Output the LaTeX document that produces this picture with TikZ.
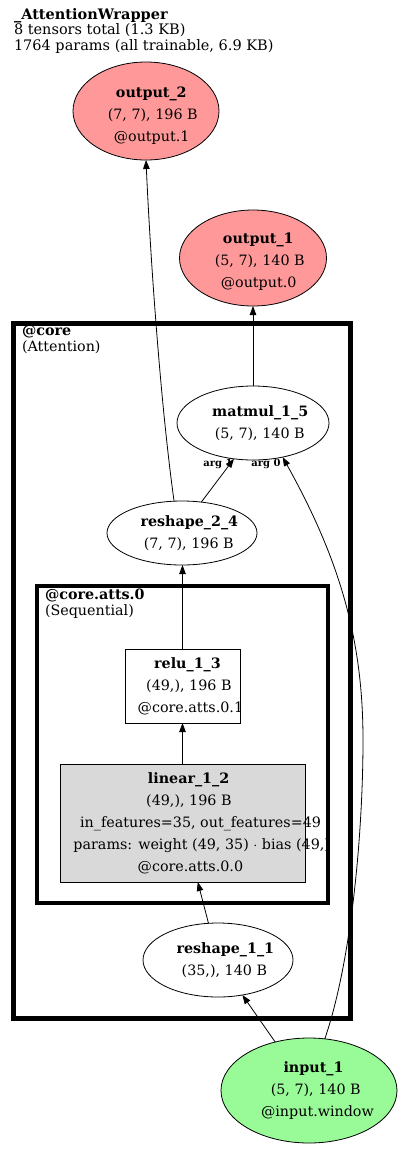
\documentclass[tikz,border=0pt]{standalone}
\usepackage{fontspec}
\setmainfont{DejaVu Serif}
\usetikzlibrary{shapes.geometric,arrows.meta}
\definecolor{outfill}{HTML}{FF9999}
\definecolor{infill}{HTML}{98FB98}
\definecolor{linfill}{HTML}{D9D9D9}
\newcommand{\gvline}[1]{\makebox[0.85\width][l]{#1}}
\begin{document}
\begin{tikzpicture}[x=1pt,y=-1pt,
  every node/.style={inner sep=0pt, outer sep=0pt, font=\fontsize{14.3}{22}\selectfont, align=center},
  ell/.style={ellipse, draw, line width=0.8pt},
  opbox/.style={rectangle, draw, line width=0.8pt},
  arr/.style={-{Triangle[length=9pt,width=6.5pt]}, line width=0.8pt},
  clusterbox/.style={draw, rectangle, fill=none},
  clabel/.style={anchor=north west, align=left, font=\fontsize{14.3}{16}\selectfont},
  arglabel/.style={font=\bfseries\fontsize{10}{11}\selectfont}
]
\useasboundingbox[fill=white] (0,0) rectangle (400,1149);

% title
\node[anchor=north west, align=left, font=\fontsize{14.5}{15.5}\selectfont] (title) at (14,8)
  {\textbf{\_AttentionWrapper}\\8 tensors total (1.3 KB)\\1764 params (all trainable, 6.9 KB)};

% clusters
\node[clusterbox, line width=5pt, minimum width=337pt, minimum height=695pt] (core) at (182,670.5) {};
\node[clabel] (corelabel) at (22,325) {\textbf{@core}\\(Attention)};
\node[clusterbox, line width=4pt, minimum width=291pt, minimum height=317pt] (atts) at (182.5,744.5) {};
\node[clabel] (attslabel) at (45,589) {\textbf{@core.atts.0}\\(Sequential)};

% nodes
\node[ell, fill=outfill, minimum width=146pt, minimum height=98pt] (out2) at (146,111)
  {\rule{0pt}{20pt}\gvline{\textbf{output\_2}}\\\gvline{(7, 7), 196 B}\\\gvline{@output.1}};
\node[ell, fill=outfill, minimum width=147pt, minimum height=96pt] (out1) at (253,258)
  {\rule{0pt}{18pt}\gvline{\textbf{output\_1}}\\\gvline{(5, 7), 140 B}\\\gvline{@output.0}};
\node[ell, fill=white, minimum width=152pt, minimum height=74pt] (matmul) at (253,423)
  {\gvline{\textbf{matmul\_1\_5}}\\\gvline{(5, 7), 140 B}};
\node[ell, fill=white, minimum width=150pt, minimum height=64pt] (reshape24) at (182,533)
  {\gvline{\textbf{reshape\_2\_4}}\\\gvline{(7, 7), 196 B}};
\node[opbox, fill=white, minimum width=115pt, minimum height=74pt] (relu) at (182.5,686)
  {\gvline{\textbf{relu\_1\_3}}\\\gvline{(49,), 196 B}\\\gvline{@core.atts.0.1}};
\node[opbox, fill=linfill, minimum width=245pt, minimum height=118pt] (linear) at (182.5,823)
  {\gvline{\textbf{linear\_1\_2}}\\\gvline{(49,), 196 B}\\\gvline{in\_features=35, out\_features=49}\\\gvline{params: weight (49, 35) $\cdot$ bias (49,)}\\\gvline{@core.atts.0.0}};
\node[ell, fill=white, minimum width=150pt, minimum height=74pt] (reshape11) at (218,960)
  {\gvline{\textbf{reshape\_1\_1}}\\\gvline{(35,), 140 B}};
\node[ell, fill=infill, minimum width=176pt, minimum height=105pt] (input) at (309,1090.5)
  {\gvline{\textbf{input\_1}}\\\gvline{(5, 7), 140 B}\\\gvline{@input.window}};

% edges
\draw[arr] (input) -- (reshape11);
\draw[arr] (reshape11) -- (linear);
\draw[arr] (linear.north -| relu.south) -- (relu.south);
\draw[arr] (relu.north) -- (relu.north |- reshape24.south);
\draw[arr] (reshape24.58) -- (matmul.-118);
\draw[arr] (input.73) .. controls (352,960) and (363,830) .. (363,740)
  .. controls (363,640) and (340,560) .. (matmul.-49);
\draw[arr] (reshape24.104) .. controls (160,400) and (150,250) .. (out2.south);
\draw[arr] (matmul) -- (out1);

% edge labels
\node[arglabel] (arg1) at (218,464) {arg 1};
\node[arglabel] (arg0) at (266,464) {arg 0};
\end{tikzpicture}
\end{document}
